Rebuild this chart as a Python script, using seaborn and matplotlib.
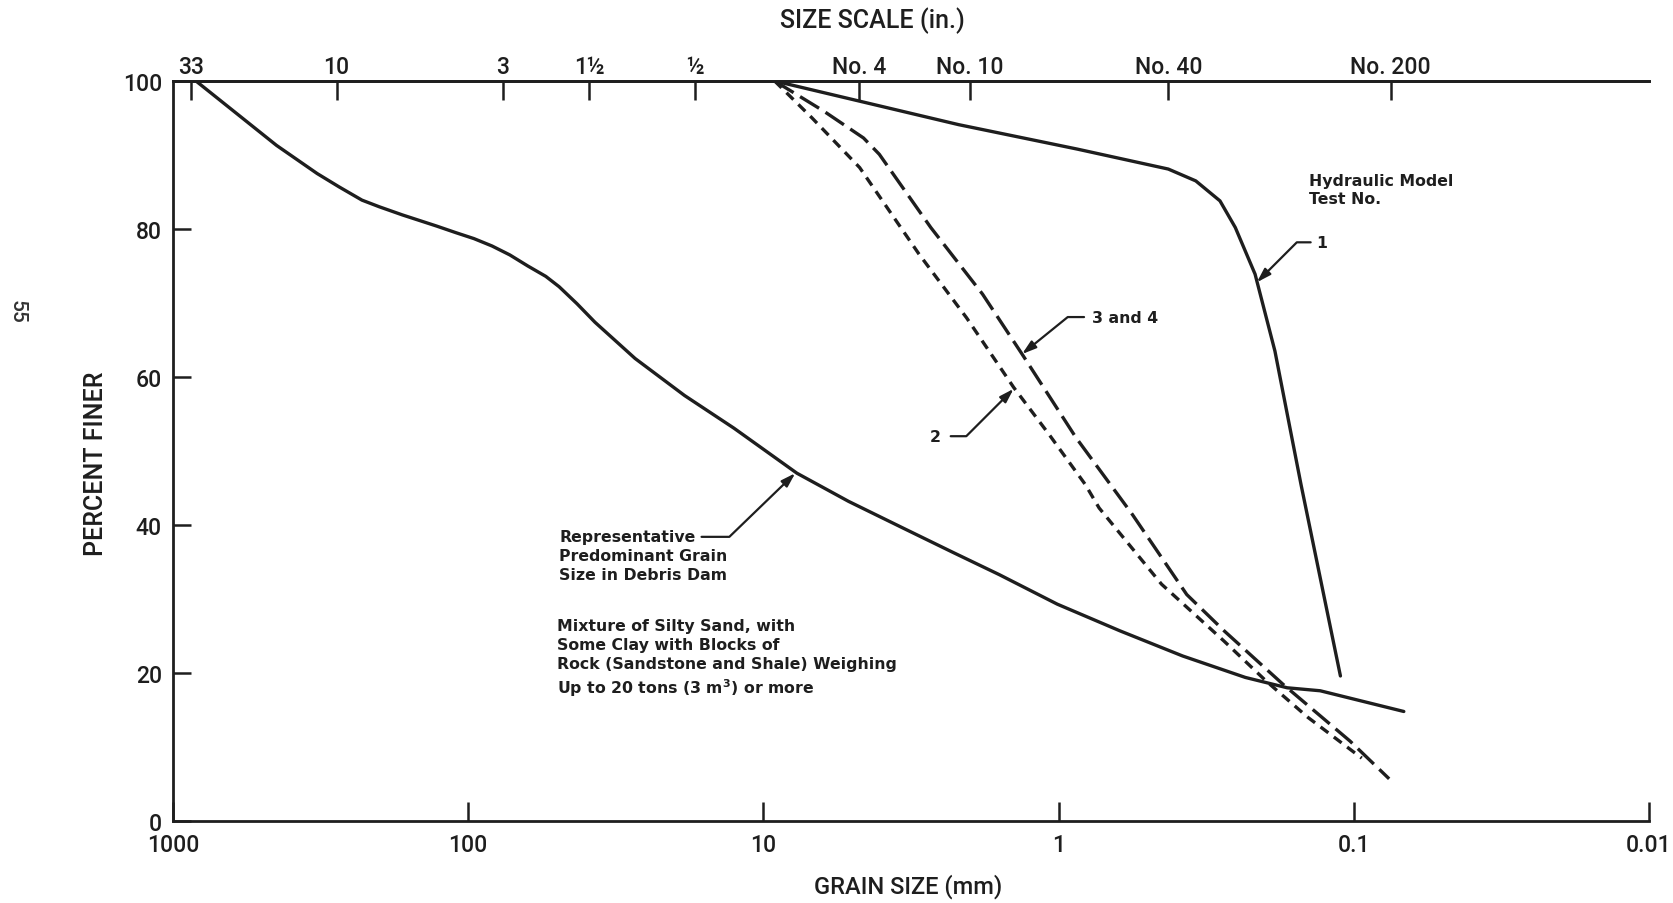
import numpy as np
import pandas as pd
import matplotlib
matplotlib.use("Agg")
import matplotlib.pyplot as plt
from matplotlib.ticker import NullLocator, FixedLocator, FixedFormatter
from matplotlib.font_manager import FontProperties
import seaborn as sns

# ---------------- data ----------------
rep_mm = [836, 446, 325, 274, 229, 200, 167, 128, 110, 95.6, 83, 72.3, 62.8, 54.6, 49.2, 42.8,
          37.2, 27.2, 18.5, 12.6, 7.7, 5.15, 3.37, 2.28, 1.59, 1.01, 0.62, 0.38, 0.233,
          0.168, 0.130, 0.0677]
rep_pct = [100, 91.3, 87.5, 85.7, 83.9, 83.0, 81.9, 80.4, 79.5, 78.7, 77.7, 76.5, 75.0, 73.6, 72.2, 69.9,
           67.4, 62.5, 57.5, 53.1, 47.0, 43.2, 39.6, 36.3, 33.3, 29.3, 25.7, 22.3, 19.4,
           18.0, 17.6, 14.8]

test1_mm = [9.16, 4.75, 2.18, 0.865, 0.425, 0.343, 0.284, 0.252, 0.216, 0.185, 0.151, 0.111]
test1_pct = [100, 97.3, 94.1, 90.8, 88.1, 86.5, 83.8, 80.2, 73.9, 63.5, 45.5, 19.6]

test34_mm = [9.16, 6.23, 4.58, 4.05, 2.71, 1.81, 1.33, 0.873, 0.562, 0.368, 0.275, 0.174, 0.103, 0.0759]
test34_pct = [100, 95.9, 92.3, 90.1, 80.2, 71.2, 63.1, 51.8, 41.4, 30.6, 25.7, 18.5, 10.8, 5.7]

test2_mm = [9.16, 6.84, 4.72, 2.97, 2.05, 1.42, 1.08, 0.813, 0.729, 0.448, 0.275, 0.198, 0.143, 0.094]
test2_pct = [100, 95.0, 88.3, 76.6, 68.0, 58.6, 52.3, 45.5, 42.3, 32.0, 24.3, 18.9, 14.0, 8.5]

bottom_ticks = [1000, 100, 10, 1, 0.1, 0.01]
bottom_labels = ["1000", "100", "10", "1", "0.1", "0.01"]
y_ticks = [0, 20, 40, 60, 80, 100]
top_ticks_mm = [870, 279, 76.2, 38.9, 17.1, 4.75, 2.0, 0.425, 0.075]
top_labels = ["33", "10", "3", "1½", "½", "No. 4", "No. 10", "No. 40", "No. 200"]

# ---------------- figure ----------------
sns.set_theme(style="white")
plt.rcParams["font.family"] = ["Roboto", "Liberation Sans", "DejaVu Sans"]
plt.rcParams["lines.scale_dashes"] = False

W, H = 1674, 904
fig = plt.figure(figsize=(W / 100, H / 100), dpi=100)
fig.patch.set_facecolor("white")
L, R, T, B = 173, 1649, 82, 822
ax = fig.add_axes([L / W, 1 - B / H, (R - L) / W, (B - T) / H])
ax.set_facecolor("white")

ink = "#1e1e1e"
lw = 2.4

df_rep = pd.DataFrame({"mm": rep_mm, "pct": rep_pct})
df_1 = pd.DataFrame({"mm": test1_mm, "pct": test1_pct})
df_34 = pd.DataFrame({"mm": test34_mm, "pct": test34_pct})
df_2 = pd.DataFrame({"mm": test2_mm, "pct": test2_pct})

sns.lineplot(data=df_rep, x="mm", y="pct", ax=ax, sort=False, color=ink, lw=lw)
sns.lineplot(data=df_1, x="mm", y="pct", ax=ax, sort=False, color=ink, lw=lw)
l34 = sns.lineplot(data=df_34, x="mm", y="pct", ax=ax, sort=False, color=ink, lw=lw).lines[-1]
l34.set_dashes((16, 5.5))
l2 = sns.lineplot(data=df_2, x="mm", y="pct", ax=ax, sort=False, color=ink, lw=lw).lines[-1]
l2.set_dashes((7, 5))
for ln in ax.lines:
    ln.set_solid_joinstyle("round")
    ln.set_dash_joinstyle("round")

ax.set_xscale("log")
ax.set_xlim(1000, 0.01)
ax.set_ylim(0, 100)
ax.set_xlabel("")
ax.set_ylabel("")

ax.xaxis.set_major_locator(FixedLocator(bottom_ticks))
ax.xaxis.set_major_formatter(FixedFormatter(bottom_labels))
ax.xaxis.set_minor_locator(NullLocator())
ax.set_yticks(y_ticks)
ax.set_yticklabels([str(v) for v in y_ticks])

tickfont = dict(family=["Roboto", "Liberation Sans"], weight="medium", size=16.5)

ax.tick_params(axis="x", which="major", direction="in", length=14, width=1.8,
               colors=ink, pad=9, bottom=True)
ax.tick_params(axis="y", which="major", direction="in", length=13, width=1.8,
               colors=ink, pad=8, left=True)
for lab in ax.get_xticklabels() + ax.get_yticklabels():
    lab.set_fontproperties(FontProperties(**tickfont))

for s in ["left", "bottom", "top"]:
    ax.spines[s].set_visible(True)
    ax.spines[s].set_color(ink)
    ax.spines[s].set_linewidth(2.0)
ax.spines["right"].set_visible(False)

sec = ax.secondary_xaxis("top")
sec.set_xticks(top_ticks_mm)
sec.set_xticklabels(top_labels)
sec.xaxis.set_minor_locator(NullLocator())
sec.tick_params(axis="x", which="major", direction="in", length=14, width=1.8,
                colors=ink, pad=2)
for lab in sec.get_xticklabels():
    lab.set_fontproperties(FontProperties(**tickfont))
sec.spines["top"].set_color(ink)
sec.spines["top"].set_linewidth(2.0)

# axis titles
tfont = dict(family=["Roboto", "Liberation Sans"], weight="medium", color=ink)
fig.text(872 / W, 1 - 21 / H, "SIZE SCALE (in.)", ha="center", va="center",
         fontsize=18, **tfont)
fig.text(908 / W, 1 - 887 / H, "GRAIN SIZE (mm)", ha="center", va="center",
         fontsize=17, **tfont)
fig.text(96 / W, 1 - 464 / H, "PERCENT FINER", ha="center", va="center",
         rotation=90, fontsize=18, **tfont)
fig.text(17 / W, 1 - 312 / H, "55", ha="center", va="center", rotation=-90,
         fontsize=15, color="#333333", family=["Roboto", "Liberation Sans"], weight="medium")

# annotations
afont = dict(family="DejaVu Sans", weight="bold", fontsize=11.3, color=ink)
aprops = dict(arrowstyle="-|>,head_length=0.7,head_width=0.22", color=ink,
              lw=1.6, shrinkA=0, shrinkB=0)

def callout(tail, tip, angle):
    p = dict(aprops)
    p["connectionstyle"] = f"angle,angleA=0,angleB={angle},rad=0"
    ax.annotate("", xy=tip, xytext=tail, xycoords="data", textcoords="data",
                arrowprops=p)

ax.text(49.2, 39.5, "Representative\nPredominant Grain\nSize in Debris Dam",
        ha="left", va="top", linespacing=1.36, **afont)
callout((16.2, 38.4), (7.8, 47.0), 44)

ax.text(49.9, 27.4, "Mixture of Silty Sand, with\nSome Clay with Blocks of\n"
        "Rock (Sandstone and Shale) Weighing\nUp to 20 tons (3 m$^\\mathbf{3}$) or more",
        ha="left", va="top", linespacing=1.33, **afont)

ax.text(0.142, 87.6, "Hydraulic Model\nTest No.", ha="left", va="top",
        linespacing=1.28, **afont)

ax.text(0.134, 78.2, "1", ha="left", va="center", **afont)
callout((0.140, 78.2), (0.213, 72.8), 45)

ax.text(0.772, 68.1, "3 and 4", ha="left", va="center", **afont)
callout((0.82, 68.1), (1.33, 63.1), 39)

ax.text(2.61, 52.0, "2", ha="center", va="center", **afont)
callout((2.32, 52.0), (1.42, 58.4), 45)

fig.savefig("out.png", dpi=100, facecolor="white")
